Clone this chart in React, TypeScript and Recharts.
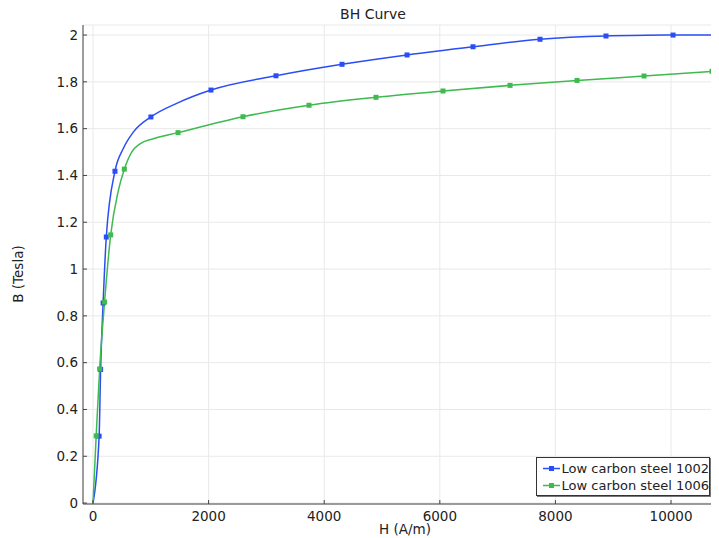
import React from "react";
import { ComposedChart, Line, XAxis, YAxis, CartesianGrid, Label } from "recharts";

// Low carbon steel 1002
const blueH = [0, 106, 132, 175, 230, 380, 524, 697, 1002, 1448, 2041, 3166, 4308, 5433, 6574, 7734, 8875, 10035, 11000];
const blueB = [0, 0.286, 0.571, 0.855, 1.137, 1.418, 1.515, 1.585, 1.65, 1.708, 1.765, 1.826, 1.875, 1.915, 1.95, 1.982, 1.996, 2.0, 2.001];
const blueMarker = [0, 1, 1, 1, 1, 1, 0, 0, 1, 0, 1, 1, 1, 1, 1, 1, 1, 1, 0];

// Low carbon steel 1006
const greenH = [0, 55, 115, 200, 306, 438, 542, 669, 813, 1043, 1471, 2595, 3737, 4896, 6055, 7215, 8374, 9533, 10709, 11000];
const greenB = [0, 0.287, 0.573, 0.859, 1.146, 1.335, 1.427, 1.5, 1.535, 1.557, 1.583, 1.651, 1.7, 1.734, 1.761, 1.785, 1.806, 1.825, 1.845, 1.85];
const greenMarker = [0, 1, 1, 1, 1, 0, 1, 0, 0, 0, 1, 1, 1, 1, 1, 1, 1, 1, 1, 0];

const xTicks = [0, 2000, 4000, 6000, 8000, 10000];
const yTicks = [0, 0.2, 0.4, 0.6, 0.8, 1, 1.2, 1.4, 1.6, 1.8, 2];

const seriesNames = ["Low carbon steel 1002", "Low carbon steel 1006"];
const BLUE = "#2b4df5";
const GREEN = "#3dbb4e";
const FONT = "'DejaVu Sans', sans-serif";
const FS = 13.5;

const blueData = blueH.map((h, i) => ({ h, b: blueB[i], m: blueMarker[i] }));
const greenData = greenH.map((h, i) => ({ h, b: greenB[i], m: greenMarker[i] }));

const makeDot = (color: string) => (props: any) => {
  const { cx, cy, payload, index } = props;
  if (!payload || !payload.m) return <g key={"d" + index} />;
  return <rect key={"d" + index} x={cx - 2.5} y={cy - 2.5} width={5} height={5} fill={color} />;
};

const tickStyle = { fontFamily: FONT, fontSize: FS, fill: "#222" };

export default function App() {
  return (
    <div style={{ position: "relative", width: 711, height: 530, fontFamily: FONT }}>
      <style>{`html { overflow: hidden; } body { overflow: visible; }`}</style>
      <div
        style={{
          position: "absolute",
          left: 0,
          width: 730,
          top: -2,
          textAlign: "center",
          fontSize: 14,
          color: "#222",
          lineHeight: "16px",
        }}
      >
        BH Curve
      </div>
      <ComposedChart width={711} height={530} margin={{ top: 17, right: 0, left: 0, bottom: 0 }}>
        <CartesianGrid stroke="#e9e9e9" strokeWidth={1} />
        <XAxis
          xAxisId={0}
          dataKey="h"
          type="number"
          domain={[-173, 10830]}
          allowDataOverflow
          ticks={xTicks}
          height={34}
          tickSize={-4}
          tickMargin={11}
          stroke="#444"
          tick={tickStyle}
        >
          <Label
            content={() => (
              <text x={397} y={526} textAnchor="middle" fontFamily={FONT} fontSize={FS} fill="#222">
                H (A/m)
              </text>
            )}
          />
        </XAxis>
        <XAxis
          xAxisId="top"
          orientation="top"
          type="number"
          domain={[-173, 10830]}
          allowDataOverflow
          ticks={xTicks}
          height={0}
          tickSize={-4}
          tick={false}
          stroke="#444"
        />
        <YAxis
          type="number"
          domain={[-0.004, 2.043]}
          allowDataOverflow
          ticks={yTicks}
          width={75}
          tickSize={-4}
          tickMargin={9}
          stroke="#444"
          tick={tickStyle}
          tickFormatter={(v: number) => String(+v.toFixed(1))}
        >
          <Label
            content={() => (
              <text
                x={10}
                y={266}
                transform="rotate(-90 10 266)"
                textAnchor="middle"
                dominantBaseline="central"
                fontFamily={FONT}
                fontSize={FS}
                fill="#222"
              >
                B (Tesla)
              </text>
            )}
          />
        </YAxis>
        <Line
          data={blueData}
          dataKey="b"
          type="monotone"
          stroke={BLUE}
          strokeWidth={1.5}
          dot={makeDot(BLUE)}
          activeDot={false}
          isAnimationActive={false}
          name={seriesNames[0]}
        />
        <Line
          data={greenData}
          dataKey="b"
          type="monotone"
          stroke={GREEN}
          strokeWidth={1.5}
          dot={makeDot(GREEN)}
          activeDot={false}
          isAnimationActive={false}
          name={seriesNames[1]}
        />
      </ComposedChart>
      <div
        style={{
          position: "absolute",
          left: 528,
          top: 449,
          width: 172,
          height: 37,
          background: "#fff",
          border: "1px solid #333",
          boxShadow: "1px 1px 0 #777",
          fontSize: 13,
          color: "#222",
        }}
      >
        {[BLUE, GREEN].map((c, i) => (
          <div key={i} style={{ display: "flex", alignItems: "center", height: 17, marginTop: i === 0 ? 2 : 0 }}>
            <svg width={25} height={17} style={{ display: "block" }}>
              <line x1={6} x2={23} y1={8.5} y2={8.5} stroke={c} strokeWidth={1.5} />
              <rect x={12} y={6} width={5} height={5} fill={c} />
            </svg>
            <span style={{ whiteSpace: "nowrap" }}>{seriesNames[i]}</span>
          </div>
        ))}
      </div>
    </div>
  );
}
